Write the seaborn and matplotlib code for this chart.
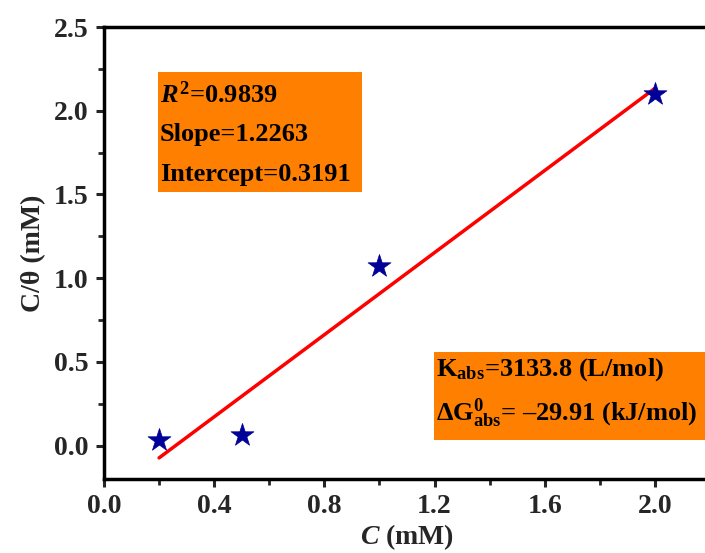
import numpy as np
import pandas as pd
import matplotlib
matplotlib.use("Agg")
import matplotlib.pyplot as plt
import seaborn as sns
from matplotlib.patches import Rectangle
from matplotlib.ticker import MultipleLocator

# data
conc = [0.2, 0.5, 1.0, 2.0]
c_theta = [0.03, 0.06, 1.07, 2.10]
r2 = 0.9839
slope = 1.2263
intercept = 0.3191   # shown as positive in the box, the line uses -0.3191
k_abs = 3133.8
dg_abs = -29.91

sns.set_theme(style="ticks")
plt.rcParams["font.family"] = ["Liberation Serif", "DejaVu Serif"]
plt.rcParams["font.weight"] = "bold"
plt.rcParams["mathtext.fontset"] = "custom"
plt.rcParams["mathtext.rm"] = "Liberation Serif:bold"
plt.rcParams["mathtext.it"] = "Liberation Serif:italic:bold"
plt.rcParams["mathtext.bf"] = "Liberation Serif:bold"

W, H = 705, 553
fig = plt.figure(figsize=(W / 100, H / 100), dpi=100)
ax = fig.add_axes([104 / W, 1 - 479 / H, (710 - 104) / W, (479 - 27) / H])

df = pd.DataFrame({"C": conc, "ct": c_theta})
fit = pd.DataFrame({"C": [conc[0], conc[-1]]})
fit["ct"] = slope * fit["C"] - intercept

sns.lineplot(data=fit, x="C", y="ct", color="#ff0000", lw=2.5, ax=ax)
sns.scatterplot(data=df, x="C", y="ct", marker="*", s=300, color="#000099",
                edgecolor="#000099", linewidth=0.5, ax=ax, zorder=5)

ax.set_xlim(0, 2.2)
ax.set_ylim(-0.2, 2.5)
ax.xaxis.set_major_locator(MultipleLocator(0.4))
ax.xaxis.set_minor_locator(MultipleLocator(0.2))
ax.yaxis.set_major_locator(MultipleLocator(0.5))
ax.yaxis.set_minor_locator(MultipleLocator(0.25))
ax.xaxis.set_major_formatter(matplotlib.ticker.FormatStrFormatter("%.1f"))
ax.yaxis.set_major_formatter(matplotlib.ticker.FormatStrFormatter("%.1f"))
ax.tick_params(which="major", direction="out", length=6, width=2.2, labelsize=20, pad=5)
ax.tick_params(which="minor", direction="out", length=4, width=2)
for s in ax.spines.values():
    s.set_linewidth(2.5)
    s.set_color("black")
for lab in ax.get_xticklabels() + ax.get_yticklabels():
    lab.set_fontweight("bold")

ax.set_xlabel("$C$ (mM)", fontsize=20, fontweight="bold", labelpad=2)
ax.set_ylabel("C/\u03b8 (mM)", fontsize=20, fontweight="bold", labelpad=6)

# orange annotation boxes (pixel extents)
orange = "#ff8000"
fig.patches.append(Rectangle((158 / W, 1 - 192 / H), (362 - 158) / W, (192 - 72) / H,
                             transform=fig.transFigure, facecolor=orange, edgecolor="none", zorder=0))
fig.patches.append(Rectangle((434 / W, 1 - 440 / H), (720 - 434) / W, (440 - 352) / H,
                             transform=fig.transFigure, facecolor=orange, edgecolor="none", zorder=0))

tk = dict(fontsize=19, fontweight="bold", ha="left", va="center", color="black")
fig.text(160 / W, 1 - 95 / H, f"$R^2$=${r2:.4f}$", **tk)
fig.text(160 / W, 1 - 135 / H, f"Slope={slope:.4f}", **tk)
fig.text(160 / W, 1 - 175 / H, f"Intercept={intercept:.4f}", **tk)
fig.text(436 / W, 1 - 370 / H, f"K$_{{\\mathrm{{abs}}}}$={k_abs:.1f} (L/mol)", **tk)
fig.text(436 / W, 1 - 413 / H,
         f"\u0394G$^{{0}}_{{\\mathrm{{abs}}}}$= \u2013{abs(dg_abs):.2f} (kJ/mol)", **tk)

fig.savefig("out.png", dpi=100)
